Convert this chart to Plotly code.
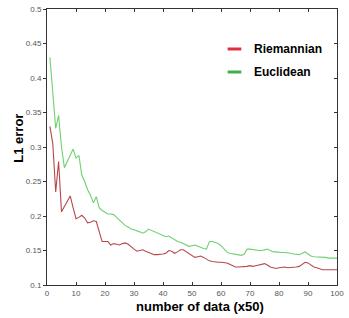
import plotly.graph_objects as go

n_data = list(range(1, 101))

euclidean = [
    0.430, 0.380, 0.327, 0.346, 0.300, 0.270, 0.278, 0.288, 0.297, 0.284,
    0.288, 0.259, 0.250, 0.238, 0.230, 0.219, 0.228, 0.212, 0.208, 0.205,
    0.203, 0.203, 0.202, 0.198, 0.194, 0.190, 0.186, 0.184, 0.181, 0.180,
    0.179, 0.177, 0.175, 0.177, 0.181, 0.179, 0.177, 0.175, 0.173, 0.171,
    0.170, 0.171, 0.168, 0.166, 0.163, 0.162, 0.160, 0.158, 0.156, 0.157,
    0.158, 0.156, 0.154, 0.153, 0.152, 0.163, 0.163, 0.162, 0.160, 0.157,
    0.152, 0.148, 0.146, 0.145, 0.144, 0.144, 0.143, 0.145, 0.152, 0.152,
    0.151, 0.151, 0.150, 0.150, 0.151, 0.152, 0.150, 0.148, 0.148, 0.147,
    0.147, 0.147, 0.147, 0.146, 0.145, 0.145, 0.144, 0.146, 0.148, 0.145,
    0.142, 0.141, 0.141, 0.140, 0.140, 0.140, 0.139, 0.139, 0.138, 0.139,
]

riemannian = [
    0.330, 0.305, 0.235, 0.279, 0.206, 0.214, 0.222, 0.229, 0.212, 0.196,
    0.198, 0.201, 0.197, 0.190, 0.191, 0.193, 0.192, 0.178, 0.163, 0.163,
    0.163, 0.158, 0.160, 0.159, 0.158, 0.160, 0.161, 0.159, 0.155, 0.152,
    0.149, 0.150, 0.151, 0.149, 0.147, 0.145, 0.144, 0.144, 0.144, 0.145,
    0.146, 0.150, 0.149, 0.146, 0.148, 0.151, 0.151, 0.148, 0.145, 0.142,
    0.140, 0.141, 0.142, 0.140, 0.137, 0.135, 0.134, 0.133, 0.133, 0.133,
    0.133, 0.132, 0.130, 0.128, 0.126, 0.126, 0.126, 0.126, 0.127, 0.128,
    0.127, 0.128, 0.129, 0.130, 0.131, 0.129, 0.126, 0.125, 0.124, 0.125,
    0.126, 0.126, 0.125, 0.125, 0.126, 0.126, 0.127, 0.130, 0.133, 0.132,
    0.129, 0.126, 0.125, 0.123, 0.122, 0.122, 0.122, 0.122, 0.122, 0.122,
]

x_ticks = [0, 10, 20, 30, 40, 50, 60, 70, 80, 90, 100]
y_ticks = [0.1, 0.15, 0.2, 0.25, 0.3, 0.35, 0.4, 0.45, 0.5]
y_tick_labels = ["0.1", "0.15", "0.2", "0.25", "0.3", "0.35", "0.4", "0.45", "0.5"]
legend_names = ["Riemannian", "Euclidean"]

fig = go.Figure()
fig.add_trace(go.Scatter(x=n_data, y=euclidean, mode="lines",
                         line=dict(color="#6fd06f", width=1.1), showlegend=False))
fig.add_trace(go.Scatter(x=n_data, y=riemannian, mode="lines",
                         line=dict(color="#b84848", width=1.1), showlegend=False))
# invisible copy on mirror axes so the inward top/right ticks are drawn
fig.add_trace(go.Scatter(x=n_data, y=riemannian, mode="lines", opacity=0,
                         xaxis="x2", yaxis="y2", showlegend=False, hoverinfo="skip"))

tick_font = dict(family="Liberation Sans, Arial, sans-serif", size=8, color="#555555")
fig.update_layout(
    width=349, height=318,
    margin=dict(l=47, r=5, t=9, b=33),
    paper_bgcolor="white", plot_bgcolor="white",
    xaxis=dict(range=[0, 100], tickvals=x_ticks, ticks="inside", ticklen=3,
               tickcolor="#333", showline=True, linecolor="#333", linewidth=1,
               mirror=True, showgrid=False, zeroline=False, tickfont=tick_font,
               ticklabeloverflow="allow"),
    yaxis=dict(range=[0.1, 0.5], tickvals=y_ticks, ticktext=y_tick_labels,
               ticks="outside", ticklen=3, tickcolor="#333", showline=True,
               linecolor="#333", linewidth=1, mirror=True, showgrid=False,
               zeroline=False, tickfont=tick_font, ticklabeloverflow="allow"),
    xaxis2=dict(range=[0, 100], tickvals=x_ticks, ticks="inside", ticklen=3,
                tickcolor="#333", showline=False, overlaying="x", side="top",
                showticklabels=False, showgrid=False, zeroline=False),
    yaxis2=dict(range=[0.1, 0.5], tickvals=y_ticks, ticks="inside", ticklen=3,
                tickcolor="#333", showline=False, overlaying="y", side="right",
                showticklabels=False, showgrid=False, zeroline=False),
)

title_font = dict(family="Liberation Sans, Arial, sans-serif", size=13, color="black")
fig.add_annotation(text="<b>number of data (x50)</b>", xref="paper", yref="paper",
                   x=(204 - 47) / 297, y=-(306 - 285) / 276, xanchor="center",
                   yanchor="middle", showarrow=False, font=title_font)
fig.add_annotation(text="<b>L1 error</b>", xref="paper", yref="paper",
                   x=-(47 - 17) / 297, y=(285 - 138) / 276, xanchor="center",
                   yanchor="middle", textangle=-90, showarrow=False, font=title_font)

legend_colors = ["#e03040", "#3cb04c"]
legend_y = [49, 72]
for name, col, yy in zip(legend_names, legend_colors, legend_y):
    yp = (285 - yy) / 276
    fig.add_shape(type="line", xref="paper", yref="paper",
                  x0=(232 - 47) / 297, x1=(246 - 47) / 297, y0=yp, y1=yp,
                  line=dict(color=col, width=3))
    fig.add_annotation(text="<b>%s</b>" % name, xref="paper", yref="paper",
                       x=(257 - 47) / 297, y=yp, xanchor="left", yanchor="middle",
                       showarrow=False,
                       font=dict(family="Liberation Sans, Arial, sans-serif",
                                 size=12, color="black"))

fig.write_html("out.html", config={"displayModeBar": False},
               post_script="document.body.style.margin='0';document.body.style.overflow='hidden';")
